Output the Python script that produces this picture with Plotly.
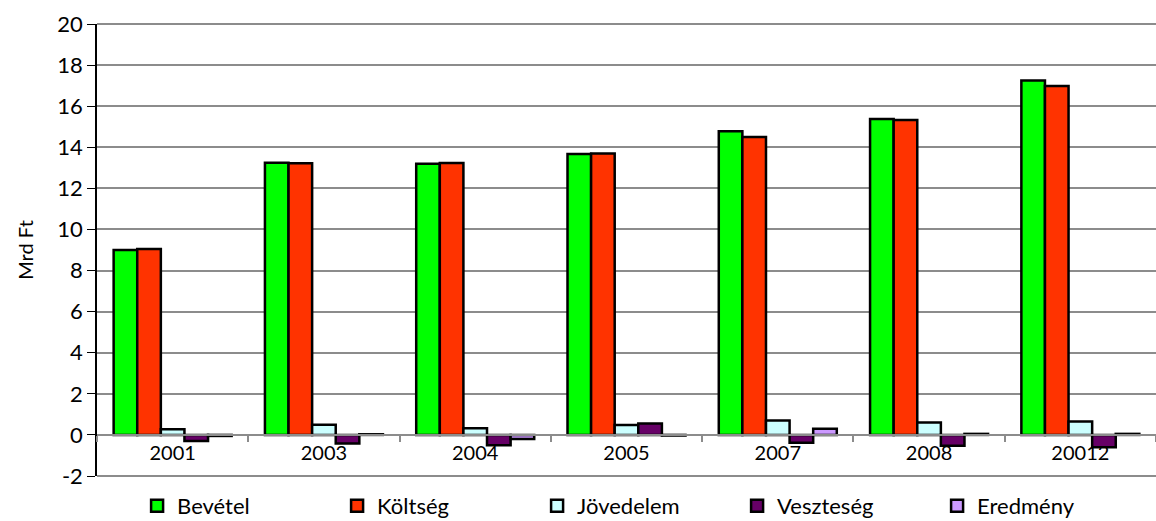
import plotly.graph_objects as go

# Évek és sorozatok (Mrd Ft)
evek = ["2001", "2003", "2004", "2005", "2007", "2008", "20012"]
bevetel = [9.0, 13.25, 13.2, 13.67, 14.78, 15.38, 17.25]
koltseg = [9.05, 13.22, 13.24, 13.7, 14.5, 15.33, 16.98]
jovedelem = [0.28, 0.5, 0.33, 0.48, 0.7, 0.6, 0.65]
veszteseg = [-0.3, -0.42, -0.5, 0.55, -0.38, -0.53, -0.6]
eredmeny = [-0.05, 0.03, -0.2, -0.03, 0.3, 0.05, 0.05]

y_ertekek = list(range(-2, 21, 2))
y_feliratok = [str(v) for v in y_ertekek]  # sima kötőjeles mínusz, mint az eredetin

sorozatok = [
    ("Bevétel", bevetel, "#00FF00"),
    ("Költség", koltseg, "#FF3300"),
    ("Jövedelem", jovedelem, "#CCFFFF"),
    ("Veszteség", veszteseg, "#660066"),
    ("Eredmény", eredmeny, "#CC99FF"),
]

FONT = "Lato"
GRID = "#8c8c8c"

fig = go.Figure()
for nev, ertekek, szin in sorozatok:
    fig.add_trace(go.Bar(
        x=evek, y=ertekek, name=nev,
        marker=dict(color=szin, line=dict(color="black", width=2.5)),
    ))

fig.update_layout(
    width=1156, height=521,
    margin=dict(l=97, r=0, t=24, b=45, autoexpand=False),
    plot_bgcolor="white", paper_bgcolor="white",
    barmode="group", bargap=0.22, bargroupgap=0,
    font=dict(family=FONT, color="black"),
    legend=dict(orientation="h", x=0.51, xanchor="center", y=-0.066,
                yanchor="middle", font=dict(size=22, family=FONT),
                bgcolor="rgba(0,0,0,0)",
                entrywidth=155, itemwidth=30, traceorder="normal"),
    xaxis=dict(anchor="free", position=2 / 22, range=[-0.5, 6.5],
               showline=True, linecolor=GRID, linewidth=1.5,
               ticks="outside", tickson="boundaries", ticklen=6,
               tickcolor=GRID, tickwidth=1.5, ticklabelstandoff=0,
               tickfont=dict(size=20, family=FONT), showgrid=False),
    yaxis=dict(range=[-2, 20], tickvals=y_ertekek, ticktext=y_feliratok,
               showgrid=True, gridcolor=GRID,
               gridwidth=1.5, zeroline=False, showline=True,
               linecolor="black", linewidth=1.5, ticks="outside", ticklen=8,
               tickcolor="black", tickfont=dict(size=22, family=FONT),
               title=dict(text="Mrd Ft", font=dict(size=20, family=FONT),
                          standoff=18)),
    shapes=[
        dict(type="line", xref="paper", yref="paper", x0=0, x1=1, y0=1, y1=1,
             line=dict(color=GRID, width=2)),
        dict(type="line", xref="paper", yref="paper", x0=0, x1=1, y0=0, y1=0,
             line=dict(color=GRID, width=2)),
    ],
)

# a böngésző alap 8px-es body margóját kinullázzuk
fig.write_html("out.html", config={"displayModeBar": False},
               post_script="document.body.style.margin='0';")
